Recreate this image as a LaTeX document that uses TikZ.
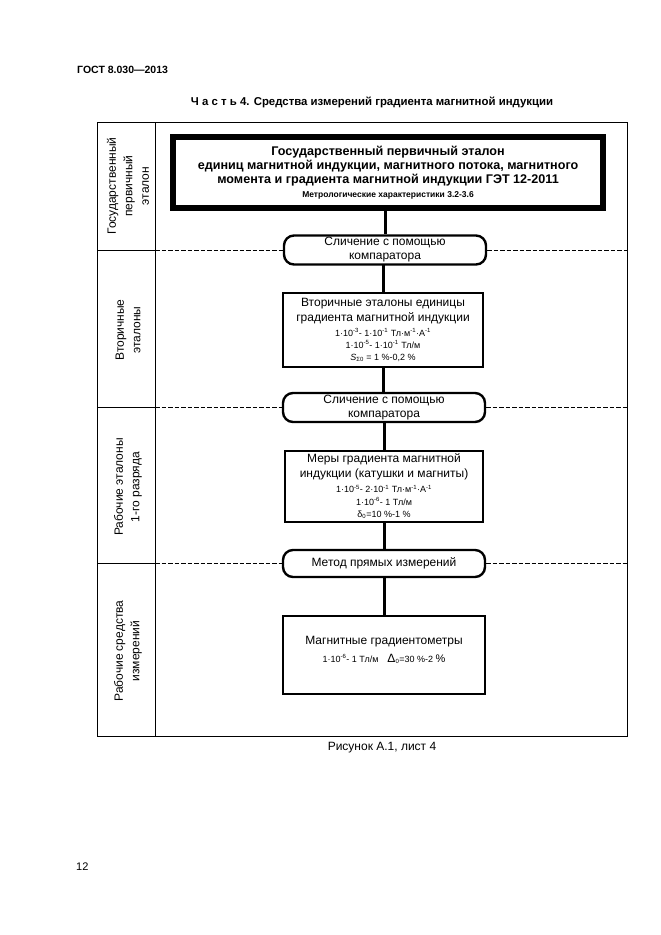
\documentclass[tikz,border=0pt]{standalone}
\usepackage{fontspec}
\setmainfont{Liberation Sans}
\newcommand{\sm}{\fontsize{9}{11}\selectfont}
\newcommand{\sps}[1]{\textsuperscript{#1}}
\begin{document}
\begin{tikzpicture}[x=1pt,y=-1pt,
  frame/.style={line width=0.9pt},
  dashline/.style={line width=0.8pt,dash pattern=on 4.5pt off 2pt},
  conn/.style={line width=3pt},
  oval/.style={draw,line width=2.4pt,rounded corners=10pt,minimum width=202pt,minimum height=29pt,inner sep=0pt,align=center,font=\fontsize{12}{14}\selectfont},
  box/.style={draw,line width=2.8pt,minimum width=200pt,inner sep=0pt,align=center,font=\fontsize{12}{15}\selectfont},
  topbox/.style={draw,line width=4pt,minimum width=432pt,minimum height=73pt,inner sep=0pt,align=center,font=\bfseries\fontsize{12.6}{14}\selectfont},
  rowlab/.style={rotate=90,align=center,font=\fontsize{12}{16.5}\selectfont},
  plain/.style={inner sep=0pt}
]
\useasboundingbox (0,0) rectangle (661,935);

% header
\node[plain,anchor=west,font=\bfseries\fontsize{10.5}{12}\selectfont] (gost) at (77,70) {ГОСТ 8.030—2013};
\node[plain,font=\bfseries\fontsize{11.4}{13}\selectfont] (title) at (372,102) {Ч а с т ь 4. Средства измерений градиента магнитной индукции};

% frame
\draw[frame] (97,122) rectangle (627,736);
\draw[frame] (155,122) -- (155,736);

% top box
\node[topbox] (top) at (388,172.5) {Государственный первичный эталон\\
единиц магнитной индукции, магнитного потока, магнитного\\
момента и градиента магнитной индукции ГЭТ 12-2011\\
{\fontsize{8.5}{10}\selectfont Метрологические характеристики 3.2-3.6}};
\draw[line width=1.8pt] ([xshift=4.8pt,yshift=-4.8pt]top.north west) rectangle ([xshift=-4.8pt,yshift=4.8pt]top.south east);

% ovals and boxes
\node[oval] (c1) at (385,250) {Сличение с помощью\\компаратора};
\node[box,minimum height=74pt] (b2) at (383,330) {Вторичные эталоны единицы\\
градиента магнитной индукции\\
{\sm 1·10\sps{-3}- 1·10\sps{-1} Тл·м\sps{-1}·А\sps{-1}}\\[-3pt]
{\sm 1·10\sps{-5}- 1·10\sps{-1} Тл/м}\\[-3pt]
{\sm \textit{S}\textsubscript{Σ0} = 1 \%-0,2 \%}};
\node[oval] (c2) at (384,407.5) {Сличение с помощью\\компаратора};
\node[box,minimum height=71pt,minimum width=198pt] (b3) at (384,486.5) {Меры градиента магнитной\\
индукции (катушки и магниты)\\
{\sm 1·10\sps{-5}- 2·10\sps{-1} Тл·м\sps{-1}·А\sps{-1}}\\[-2.5pt]
{\sm 1·10\sps{-6}- 1 Тл/м}\\[-2.5pt]
{\sm δ\textsubscript{0}=10 \%-1 \%}};
\node[oval,minimum height=27pt] (c3) at (384,563.5) {Метод прямых измерений};
\node[box,minimum height=78pt,minimum width=202pt] (b4) at (384,655) {Магнитные градиентометры\\[3pt]
{\sm 1·10\sps{-6}- 1 Тл/м\quad {\fontsize{12}{14}\selectfont Δ}\textsubscript{0}=30 \%-2 {\fontsize{11}{12}\selectfont\%}}\\[-4pt]\mbox{}};

% connectors
\draw[conn] (top.south -| c1.north) -- (c1.north);
\draw[conn] (c1.south) -- (c1.south -| b2.north) -- (b2.north);
\draw[conn] (b2.south) -- (b2.south |- c2.north);
\draw[conn] (c2.south) -- (c2.south |- b3.north);
\draw[conn] (b3.south) -- (b3.south |- c3.north);
\draw[conn] (c3.south) -- (c3.south |- b4.north);

% row separators
\draw[frame] (97,250) -- (155,250);
\draw[dashline] (155,250) -- (c1.west);
\draw[dashline] (c1.east) -- (627,250);
\draw[frame] (97,407.5) -- (155,407.5);
\draw[dashline] (155,407.5) -- (c2.west);
\draw[dashline] (c2.east) -- (627,407.5);
\draw[frame] (97,563.5) -- (155,563.5);
\draw[dashline] (155,563.5) -- (c3.west);
\draw[dashline] (c3.east) -- (627,563.5);

% row labels
\node[rowlab] (r1) at (128,186) {Государственный\\первичный\\эталон};
\node[rowlab] (r2) at (128,330) {Вторичные\\эталоны};
\node[rowlab] (r3) at (128,487) {Рабочие эталоны\\1-го разряда};
\node[rowlab] (r4) at (128,651) {Рабочие средства\\измерений};

% caption
\node[plain,font=\fontsize{12}{14}\selectfont] (cap) at (382,748) {Рисунок А.1, лист 4};
\node[plain,anchor=west,font=\fontsize{11}{13}\selectfont] (pg) at (76,867) {12};
\end{tikzpicture}
\end{document}
